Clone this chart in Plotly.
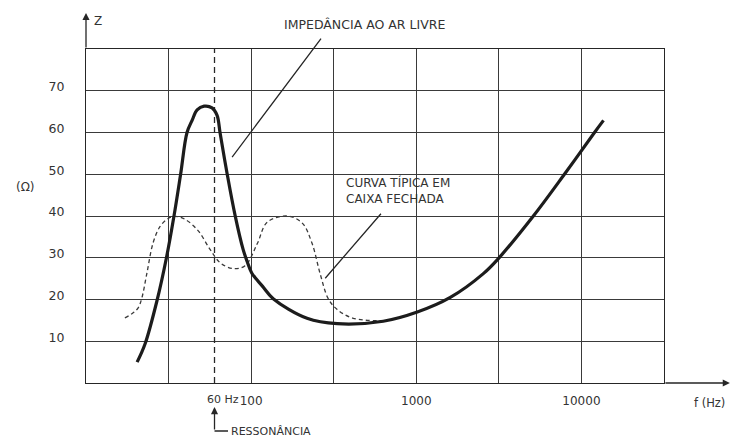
import numpy as np
import plotly.graph_objects as go

# Impedance of the woofer in free air (thick solid curve)
free_air_hz = [20.4, 22.8, 26.9, 30.7, 34.1, 37.4, 40.9, 43.9, 47.1, 51.9, 58.0, 62.2,
               64.9, 71.5, 80.0, 89.4, 94.6, 101, 117, 136, 218, 332, 631, 1014,
               1607, 2547, 3141, 5117, 7889, 12000, 13600]
free_air_ohm = [5.0, 9.4, 19.7, 30.0, 40.0, 50.0, 60.0, 62.9, 65.4, 66.3, 65.9, 64.1,
                59.8, 50.2, 40.1, 32.0, 29.1, 26.3, 23.2, 20.2, 15.5, 14.2, 14.8, 17.0,
                20.5, 26.2, 29.8, 40.0, 50.0, 60.0, 62.9]

# Typical impedance of the same woofer in a sealed box (thin dashed curve)
sealed_hz = [17.2, 19.3, 20.7, 21.8, 23.4, 25.5, 28.1, 31.4, 34.6, 39.8, 47.7, 56.4,
             64.9, 77.8, 91.9, 109, 125, 165, 204, 234, 262, 293, 332, 415, 631]
sealed_ohm = [15.6, 16.8, 18.0, 20.4, 26.4, 33.6, 37.5, 39.4, 39.9, 39.2, 36.5, 32.0,
              28.8, 27.4, 28.1, 33.4, 38.5, 40.0, 38.3, 33.4, 26.1, 20.2, 17.6, 15.5, 14.9]

resonance_hz = 60

# Axis ticks: grid every half decade, labels on the decades
x_grid_hz = [10, 31.62, 100, 316.2, 1000, 3162, 10000, 31623]
x_tick_text = ["", "", "100", "", "1000", "", "10000", ""]
y_tick_vals = [10, 20, 30, 40, 50, 60, 70]
y_tick_text = ["10", "20", "30", "40", "50", "60", "70"]

INK = "#262626"
TXT = "#333333"
FONT = "DejaVu Sans"

fig = go.Figure()

fig.add_trace(go.Scatter(
    x=[resonance_hz, resonance_hz], y=[0, 80], mode="lines",
    line=dict(color=INK, width=1.3, dash="6px,4px"), hoverinfo="skip"))

fig.add_trace(go.Scatter(
    x=sealed_hz, y=sealed_ohm, mode="lines",
    line=dict(color="#3a3a3a", width=1.3, dash="4px,3px", shape="spline", smoothing=1.0)))

fig.add_trace(go.Scatter(
    x=free_air_hz, y=free_air_ohm, mode="lines",
    line=dict(color="#1c1c1c", width=3.2, shape="spline", smoothing=1.0)))

annotations = []

def note(text, x, y, xanchor="center", size=12.5, **kw):
    annotations.append(dict(text=text, x=x, y=y, xref="paper", yref="paper",
                            xanchor=xanchor, yanchor="middle", showarrow=False,
                            font=dict(family=FONT, size=size, color=TXT), **kw))

def arrow(x, y, ax, ay, head=0, xref="paper", yref="paper", **kw):
    annotations.append(dict(text="", x=x, y=y, xref=xref, yref=yref, ax=ax, ay=ay,
                            showarrow=True, arrowhead=head, arrowsize=1.1,
                            arrowwidth=1.3, arrowcolor=INK, **kw))

# extended axes with arrow heads
arrow(0, 1.108, 0, 36, head=2)
arrow(1.114, 0, -66, 0, head=2)

note("Z", 0.0208, 1.084, size=12)
note("(Ω)", -0.1055, 0.587, size=12)
note("f (Hz)", 1.048, -0.06, xanchor="left", size=11.5)

# resonance marker below the axis
lx = np.log10(resonance_hz)
annotations.append(dict(text="60 Hz", x=lx, y=0, xref="x", yref="y", xanchor="left",
                        yanchor="middle", xshift=-10, yshift=-16, showarrow=False,
                        font=dict(family=FONT, size=11, color=TXT)))
arrow(lx, 0, 0, 24, head=2, xref="x", yref="y", yshift=-24)
arrow(lx, 0, 15, 0, head=0, xref="x", yref="y", yshift=-48)
annotations.append(dict(text="RESSONÂNCIA", x=lx, y=0, xref="x", yref="y", xanchor="left",
                        yanchor="middle", xshift=14, yshift=-48, showarrow=False,
                        font=dict(family=FONT, size=11, color=TXT)))

# curve captions with leader lines
arrow(np.log10(76.7), 54.1, 90, -120, head=0, xref="x", yref="y")
note("IMPEDÂNCIA AO AR LIVRE", 0.481, 1.072, size=12.5)
arrow(np.log10(281), 25.1, 57, -66, head=0, xref="x", yref="y")
note("CURVA TÍPICA EM<br>CAIXA FECHADA", 0.446, 0.577, xanchor="left", size=12, align="left")

fig.update_layout(
    width=733, height=439,
    margin=dict(l=86, r=69, t=49, b=56),
    paper_bgcolor="white", plot_bgcolor="white",
    showlegend=False,
    annotations=annotations,
    font=dict(family=FONT, color=TXT),
)

fig.update_xaxes(
    type="log", range=[1, 4.5],
    tickvals=x_grid_hz, ticktext=x_tick_text,
    showgrid=True, gridcolor="#3a3a3a", gridwidth=1,
    showline=True, mirror=True, linecolor=INK, linewidth=1.3,
    ticks="", ticklabelstandoff=6, zeroline=False,
    tickfont=dict(family=FONT, size=12, color=TXT),
)
fig.update_yaxes(
    range=[0, 80],
    tickvals=y_tick_vals, ticktext=y_tick_text,
    showgrid=True, gridcolor="#3a3a3a", gridwidth=1,
    showline=True, mirror=True, linecolor=INK, linewidth=1.3,
    ticks="", ticklabelstandoff=18, ticklabelshift=-4, zeroline=False,
    tickfont=dict(family=FONT, size=12.5, color=TXT),
)

fig.write_html("out.html")
